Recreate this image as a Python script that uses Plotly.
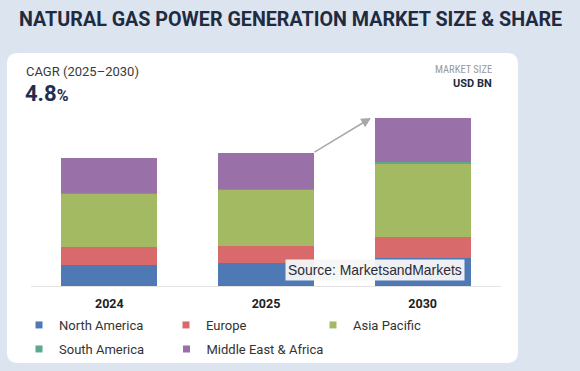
import plotly.graph_objects as go

years = ["2024", "2025", "2030"]
totals = [93.33, 96.95, 122.49]
regions = ["North America", "Europe", "Asia Pacific", "South America", "Middle East & Africa"]
north_america = [15.6, 16.8, 20.6]
europe = [12.7, 12.6, 14.9]
asia_pacific = [38.8, 40.6, 53.8]
south_america = [0.7, 0.7, 0.9]
middle_east_africa = [25.53, 26.25, 32.29]
series = [north_america, europe, asia_pacific, south_america, middle_east_africa]
colors = ["#4e79b4", "#d96a6b", "#a4ba62", "#5fa98b", "#9a70a9"]
legend_slots = ["legend", "legend", "legend", "legend2", "legend3"]

W, H = 580, 371
L, R, T, B = 31, 79, 100, 85
PW, PH = W - L - R, H - T - B
YMAX = PH / 1.372


def px(x):
    return (x - L) / PW


def py(y):
    return (H - B - y) / PH


fig = go.Figure()
for name, vals, col, lg in zip(regions, series, colors, legend_slots):
    fig.add_trace(go.Bar(x=years, y=vals, name=name, marker=dict(color=col, line=dict(width=0)),
                         width=0.613, showlegend=False))
    fig.add_trace(go.Scatter(x=[None], y=[None], mode="markers", name=name, legend=lg,
                             marker=dict(symbol="square", size=7, color=col)))

# card background
x0, x1, y0, y1, r = 7, 518, 53, 363, 11
path = (f"M{px(x0 + r)},{py(y0)} L{px(x1 - r)},{py(y0)} Q{px(x1)},{py(y0)} {px(x1)},{py(y0 + r)} "
        f"L{px(x1)},{py(y1 - r)} Q{px(x1)},{py(y1)} {px(x1 - r)},{py(y1)} "
        f"L{px(x0 + r)},{py(y1)} Q{px(x0)},{py(y1)} {px(x0)},{py(y1 - r)} "
        f"L{px(x0)},{py(y0 + r)} Q{px(x0)},{py(y0)} {px(x0 + r)},{py(y0)} Z")
fig.add_shape(type="path", path=path, xref="paper", yref="paper", fillcolor="white",
              line=dict(width=0), layer="below")

ann = []
ann.append(dict(text="<b>NATURAL GAS POWER GENERATION MARKET SIZE & SHARE</b>", x=px(17), y=py(20),
                xref="paper", yref="paper", xanchor="left", yanchor="middle", showarrow=False,
                font=dict(family="Roboto", size=19.7, color="#1e2b40")))
ann.append(dict(text="CAGR (2025–2030)", x=px(24), y=py(72), xref="paper", yref="paper",
                xanchor="left", yanchor="middle", showarrow=False,
                font=dict(family="Roboto", size=13, color="#3a3a3a")))
ann.append(dict(text="<b>4.8</b><b><span style='font-size:16px'>%</span></b>", x=px(23), y=py(93),
                xref="paper", yref="paper", xanchor="left", yanchor="middle", showarrow=False,
                font=dict(family="Roboto", size=22, color="#1e2f4f")))
ann.append(dict(text="MARKET SIZE", x=px(494), y=py(70), xref="paper", yref="paper",
                xanchor="right", yanchor="middle", showarrow=False,
                font=dict(family="Roboto Condensed, Roboto", size=10.5, color="#9a9a9a")))
ann.append(dict(text="<b>USD BN</b>", x=px(494), y=py(83), xref="paper", yref="paper",
                xanchor="right", yanchor="middle", showarrow=False,
                font=dict(family="Roboto", size=11, color="#1e2b40")))
for yr, tot in zip(years, totals):
    ann.append(dict(text=f"<b>{tot:.2f}</b>", x=yr, y=tot, xref="x", yref="y", yanchor="bottom",
                    yshift=5, showarrow=False, font=dict(family="Roboto", size=15, color="#222")))
# growth arrow
ann.append(dict(x=2 - 0.33, y=totals[2], ax=1 + 0.30, ay=totals[1], xref="x", yref="y",
                axref="x", ayref="y", text="", showarrow=True, arrowhead=2, arrowsize=1.3,
                arrowwidth=1.5, arrowcolor="#a8a8a8", standoff=0))
ann.append(dict(text="Source: MarketsandMarkets", x=px(285), y=py(269.5), xref="paper", yref="paper",
                xanchor="left", yanchor="middle", showarrow=False, bgcolor="rgba(245,245,245,0.95)",
                borderpad=2, font=dict(family="Liberation Sans, Arial", size=13.9, color="#2b2b3a")))

legend_style = dict(orientation="h", xanchor="left", yanchor="middle",
                    font=dict(family="Roboto", size=13, color="#333"), entrywidth=102,
                    itemwidth=30, bgcolor="rgba(0,0,0,0)", traceorder="normal")

fig.update_layout(
    width=W, height=H, margin=dict(l=L, r=R, t=T, b=B, autoexpand=False),
    paper_bgcolor="#dce4ef", plot_bgcolor="rgba(0,0,0,0)",
    barmode="stack", bargap=0.387,
    annotations=ann,
    xaxis=dict(type="category", tickvals=years, ticktext=[f"<b>{y}</b>" for y in years],
               tickfont=dict(family="Roboto", size=12.5, color="#222"), showline=True,
               linecolor="#e3e3e3", linewidth=1, showgrid=False, ticks="", ticklen=0,
               ticklabelstandoff=6, automargin=False, range=[-0.5, 2.5]),
    yaxis=dict(range=[0, YMAX], visible=False, showgrid=False, automargin=False),
    legend=dict(x=px(19), y=py(325), **legend_style),
    legend2=dict(x=px(19), y=py(349), **legend_style),
    legend3=dict(x=px(19 + 147.5), y=py(349), **{**legend_style, "entrywidth": 140}),
)

fig.write_html("out.html", config={"displayModeBar": False},
               post_script="document.body.style.margin='0';document.body.style.overflow='hidden';")
